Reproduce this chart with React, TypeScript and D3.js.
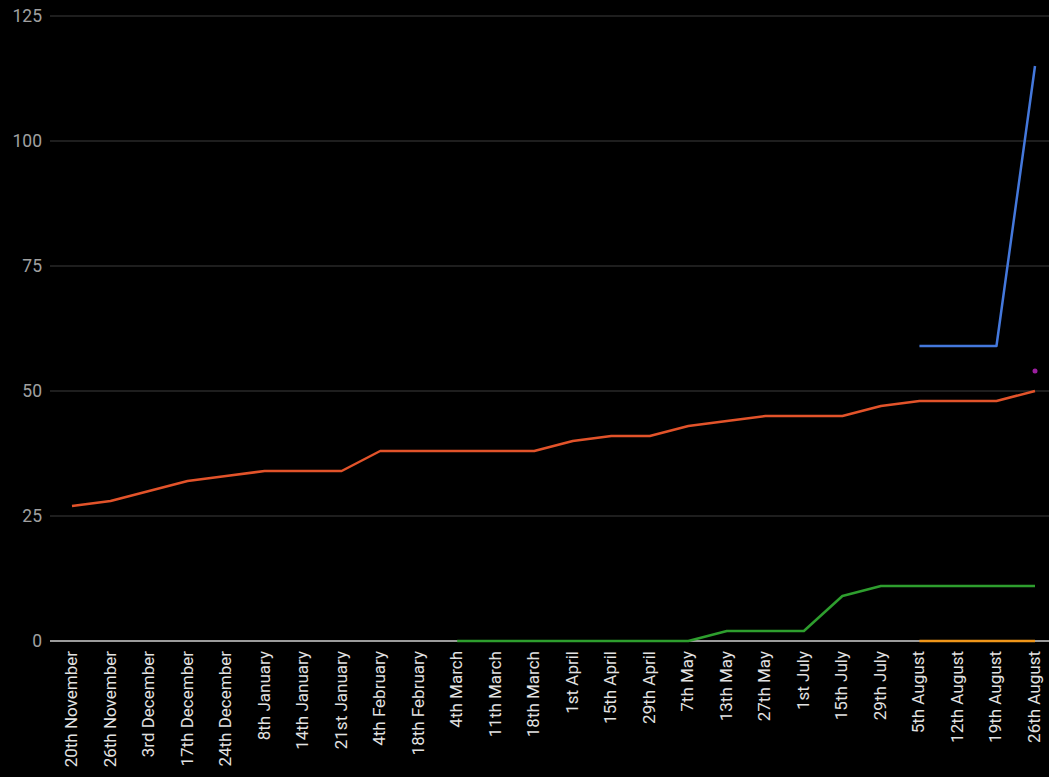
import React, { useRef, useEffect } from 'react';
import * as d3 from 'd3';

const categories = [
  '20th November', '26th November', '3rd December', '17th December', '24th December',
  '8th January', '14th January', '21st January', '4th February', '18th February',
  '4th March', '11th March', '18th March', '1st April', '15th April', '29th April',
  '7th May', '13th May', '27th May', '1st July', '15th July', '29th July',
  '5th August', '12th August', '19th August', '26th August',
];

const redValues = [27, 28, 30, 32, 33, 34, 34, 34, 38, 38, 38, 38, 38, 40, 41, 41, 43, 44, 45, 45, 45, 47, 48, 48, 48, 50];
const greenValues = [null, null, null, null, null, null, null, null, null, null, 0, 0, 0, 0, 0, 0, 0, 2, 2, 2, 9, 11, 11, 11, 11, 11];
const blueValues = [null, null, null, null, null, null, null, null, null, null, null, null, null, null, null, null, null, null, null, null, null, null, 59, 59, 59, 115];
const orangeValues = [null, null, null, null, null, null, null, null, null, null, null, null, null, null, null, null, null, null, null, null, null, null, 0, 0, 0, 0];
const purpleValues = [null, null, null, null, null, null, null, null, null, null, null, null, null, null, null, null, null, null, null, null, null, null, null, null, null, 54];

const yTicks = [0, 25, 50, 75, 100, 125];

const series = [
  { name: 'orange', values: orangeValues, color: '#f0961a' },
  { name: 'green', values: greenValues, color: '#2e9e2e' },
  { name: 'red', values: redValues, color: '#e2532a' },
  { name: 'blue', values: blueValues, color: '#4478dc' },
];

const App = () => {
  const ref = useRef<SVGSVGElement>(null);

  useEffect(() => {
    const width = 1049;
    const height = 777;
    const left = 50;
    const right = 1049;
    const top = 16;
    const bottom = 641;

    const svg = d3.select(ref.current);
    svg.selectAll('*').remove();

    svg.append('rect').attr('width', width).attr('height', height).attr('fill', '#000');

    const x = d3.scalePoint<string>().domain(categories).range([72, 1035]);
    const y = d3.scaleLinear().domain([0, 125]).range([bottom, top]);

    // grid + y labels
    const grid = svg.append('g');
    grid.selectAll('line')
      .data(yTicks)
      .join('line')
      .attr('x1', left)
      .attr('x2', right)
      .attr('y1', d => y(d))
      .attr('y2', d => y(d))
      .attr('stroke', d => (d === 0 ? '#cfcfcf' : '#3c3c3c'))
      .attr('stroke-width', d => (d === 0 ? 1.5 : 1));

    grid.selectAll('text')
      .data(yTicks)
      .join('text')
      .attr('x', 42)
      .attr('y', d => y(d))
      .attr('dy', '0.35em')
      .attr('text-anchor', 'end')
      .attr('fill', '#a0a0a0')
      .attr('font-size', 17.5)
      .attr('font-family', 'Roboto, sans-serif')
      .text(d => d);

    // x labels
    svg.append('g')
      .selectAll('text')
      .data(categories)
      .join('text')
      .attr('transform', d => `translate(${(x(d) as number) + 5},${bottom + 10}) rotate(-90)`)
      .attr('text-anchor', 'end')
      .attr('fill', '#e2e2e2')
      .attr('font-size', 17)
      .attr('font-family', 'Roboto, sans-serif')
      .text(d => d);

    // lines
    const line = d3.line<number | null>()
      .defined(d => d !== null)
      .x((_, i) => x(categories[i]) as number)
      .y(d => y(d as number));

    svg.append('g')
      .selectAll('path')
      .data(series)
      .join('path')
      .attr('d', s => line(s.values))
      .attr('fill', 'none')
      .attr('stroke', s => s.color)
      .attr('stroke-width', 2.5)
      .attr('stroke-linejoin', 'round');

    // purple single point
    svg.append('g')
      .selectAll('circle')
      .data(purpleValues.map((v, i) => ({ v, c: categories[i] })).filter(d => d.v !== null))
      .join('circle')
      .attr('cx', d => x(d.c) as number)
      .attr('cy', d => y(d.v as number))
      .attr('r', 2.5)
      .attr('fill', '#9c1fa0');
  }, []);

  return (
    <div style={{ position: 'fixed', left: 0, top: 0, width: 1049, height: 777, background: '#000' }}>
      <svg ref={ref} width={1049} height={777} style={{ display: 'block' }} />
    </div>
  );
};

export default App;
